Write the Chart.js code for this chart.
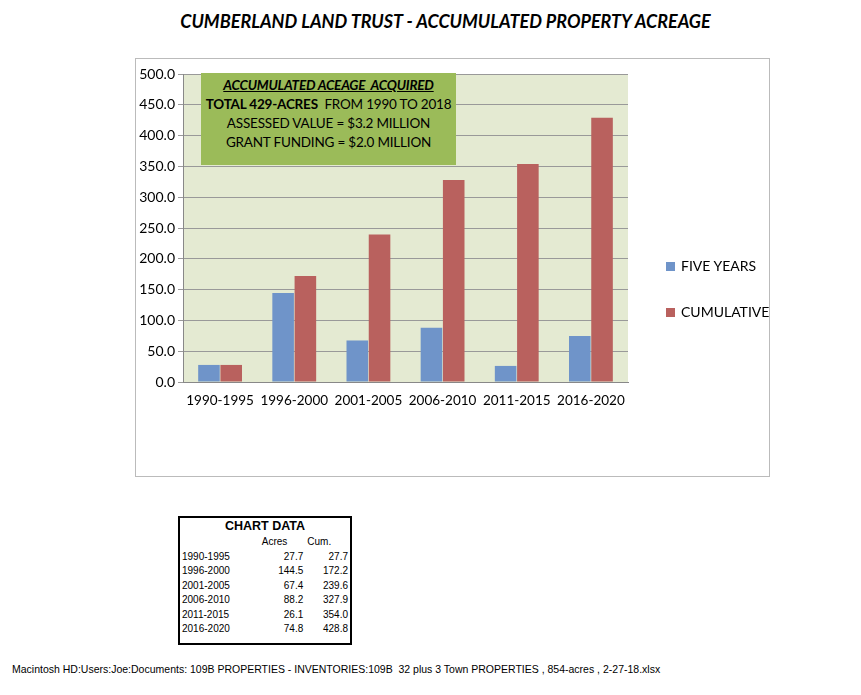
<!DOCTYPE html>
<html><head><meta charset="utf-8">
<script src="https://cdn.jsdelivr.net/npm/chart.js@4"></script>
<style>
body{margin:0;width:861px;height:695px;background:#fff;font-family:Lato,"Open Sans",sans-serif;position:relative;overflow:hidden}
#title{position:absolute;top:10px;left:0;width:891px;text-align:center;font-style:italic;font-weight:bold;font-size:18px;color:#000}
#box{position:absolute;left:135px;top:58px;width:633px;height:417px;border:1px solid #bbb}
#cv{position:absolute;left:0;top:0}
#ann{position:absolute;left:65px;top:14px;width:255px;height:92px;background:#9bbb59;text-align:center;font-size:13.5px;line-height:19px;padding-top:3px;box-sizing:border-box;color:#000;white-space:nowrap;letter-spacing:-0.2px}
.leg{position:absolute;left:530px;font-size:14px;color:#000;white-space:nowrap}
.leg span{display:inline-block;width:9px;height:9px;margin-right:6px}
#tbl{position:absolute;left:178px;top:516px;width:170px;height:125px;border:2px solid #000;font-size:10px;font-family:"Liberation Sans",Arial,sans-serif}
#tbl table{border-collapse:collapse;width:100%}
#tbl td{padding:0 2px;line-height:14.5px}
#foot{position:absolute;left:12px;top:663px;font-size:10.5px;font-family:"Liberation Sans",Arial,sans-serif}
</style></head><body>
<div id="title">CUMBERLAND LAND TRUST - ACCUMULATED PROPERTY ACREAGE</div>
<div id="box">
<canvas id="cv" width="633" height="417"></canvas>
<div id="ann"><b><i><u>ACCUMULATED ACEAGE&nbsp; ACQUIRED</u></i></b><br><b>TOTAL 429-ACRES</b>&nbsp; FROM 1990 TO 2018<br>ASSESSED VALUE = $3.2 MILLION<br>GRANT FUNDING = $2.0 MILLION</div>
<div class="leg" style="top:198px"><span style="background:#6f94c9"></span>FIVE YEARS</div>
<div class="leg" style="top:244px"><span style="background:#b9615e"></span>CUMULATIVE</div>
</div>
<div id="tbl"><table>
<tr><td colspan="3" style="text-align:center;font-weight:bold;font-size:12.5px;line-height:17px">CHART DATA</td></tr>
<tr><td></td><td>Acres</td><td>Cum.</td></tr>
<tbody id="rows"></tbody></table></div>
<div id="foot">Macintosh HD:Users:Joe:Documents: 109B PROPERTIES - INVENTORIES:109B&nbsp; 32 plus 3 Town PROPERTIES , 854-acres , 2-27-18.xlsx</div>
<script>
const categories=["1990-1995","1996-2000","2001-2005","2006-2010","2011-2015","2016-2020"];
const fiveYears=[27.7,144.5,67.4,88.2,26.1,74.8];
const cumulative=[27.7,172.2,239.6,327.9,354.0,428.8];
let h='';
categories.forEach((c,i)=>{h+=`<tr><td>${c}</td><td style="text-align:right">${fiveYears[i].toFixed(1)}</td><td style="text-align:right">${cumulative[i].toFixed(1)}</td></tr>`;});
document.getElementById('rows').innerHTML=h;
const bg={id:'bg',beforeDraw(c){const a=c.chartArea,x=c.ctx;x.save();x.fillStyle='#e4ead2';x.fillRect(a.left,a.top,a.right-a.left,a.bottom-a.top);x.restore();}};
new Chart(document.getElementById('cv'),{type:'bar',plugins:[bg],
data:{labels:categories,datasets:[
{label:'FIVE YEARS',data:fiveYears,backgroundColor:'#6f94c9'},
{label:'CUMULATIVE',data:cumulative,backgroundColor:'#b9615e'}]},
options:{responsive:false,animation:false,
layout:{padding:{top:15,right:141,bottom:64,left:0}},
plugins:{legend:{display:false},tooltip:{enabled:false}},
datasets:{bar:{categoryPercentage:0.6,barPercentage:0.97}},
scales:{
x:{grid:{display:false},border:{color:'#888'},ticks:{color:'#000',font:{family:'Lato',size:13.5},maxRotation:0},afterFit(s){s.height=30;}},
y:{min:0,max:500,ticks:{stepSize:50,color:'#000',font:{family:'Lato',size:14},callback:v=>v.toFixed(1)},grid:{color:'#999',drawTicks:true,tickLength:5},border:{color:'#888'},afterFit(s){s.width=47;}}
}}});
</script>
</body></html>
